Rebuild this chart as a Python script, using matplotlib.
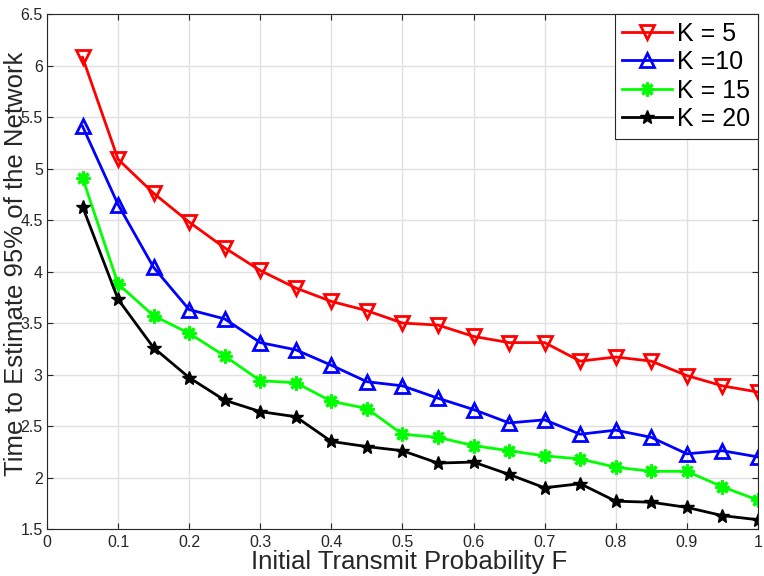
import matplotlib
matplotlib.use("Agg")
import matplotlib.pyplot as plt

F = [0.05, 0.10, 0.15, 0.20, 0.25, 0.30, 0.35, 0.40, 0.45, 0.50,
     0.55, 0.60, 0.65, 0.70, 0.75, 0.80, 0.85, 0.90, 0.95, 1.00]

k5 = [6.08, 5.09, 4.76, 4.48, 4.23, 4.01, 3.84, 3.71, 3.62, 3.50,
      3.48, 3.37, 3.31, 3.31, 3.13, 3.17, 3.13, 2.99, 2.89, 2.83]
k10 = [5.41, 4.65, 4.04, 3.63, 3.54, 3.31, 3.24, 3.09, 2.93, 2.89,
       2.77, 2.66, 2.53, 2.56, 2.42, 2.46, 2.39, 2.23, 2.26, 2.20]
k15 = [4.91, 3.88, 3.57, 3.40, 3.18, 2.94, 2.92, 2.74, 2.67, 2.42,
       2.39, 2.31, 2.26, 2.21, 2.18, 2.10, 2.06, 2.06, 1.91, 1.78]
k20 = [4.63, 3.73, 3.26, 2.97, 2.75, 2.64, 2.59, 2.35, 2.30, 2.26,
       2.14, 2.15, 2.03, 1.90, 1.94, 1.77, 1.76, 1.71, 1.63, 1.59]

labels = ["K = 5", "K =10", "K = 15", "K = 20"]
xticks = [0, 0.1, 0.2, 0.3, 0.4, 0.5, 0.6, 0.7, 0.8, 0.9, 1]
xticklabels = ["0", "0.1", "0.2", "0.3", "0.4", "0.5", "0.6", "0.7", "0.8", "0.9", "1"]
yticks = [1.5, 2, 2.5, 3, 3.5, 4, 4.5, 5, 5.5, 6, 6.5]
yticklabels = ["1.5", "2", "2.5", "3", "3.5", "4", "4.5", "5", "5.5", "6", "6.5"]

plt.rcParams['font.family'] = ['Liberation Sans', 'DejaVu Sans']

fig = plt.figure(figsize=(7.64, 5.76), dpi=100)
ax = fig.add_axes([0.0615, 0.0816, 0.9305, 0.894])

lw = 2.0
ax.plot(F, k5, color='#ff0000', lw=lw, marker='v', ms=10, mfc='none', mew=2, label=labels[0])
ax.plot(F, k10, color='#0000ff', lw=lw, marker='^', ms=10, mfc='none', mew=2, label=labels[1])
ax.plot(F, k15, color='#00ff00', lw=lw, marker=(8, 2, 0), ms=10, mew=2.2, label=labels[2])
ax.plot(F, k20, color='#000000', lw=lw, marker='*', ms=10, mew=1, label=labels[3])

ax.set_xlim(0, 1)
ax.set_ylim(1.5, 6.5)
ax.set_xticks(xticks)
ax.set_xticklabels(xticklabels)
ax.set_yticks(yticks)
ax.set_yticklabels(yticklabels)
ax.tick_params(direction='in', length=4, width=0.8, labelsize=11.5, colors='#262626',
               top=True, right=True)
ax.tick_params(axis='y', pad=3)
ax.tick_params(axis='x', pad=4)
ax.grid(True, color='#e0e0e0', lw=1)
ax.set_axisbelow(True)
for s in ax.spines.values():
    s.set_color('#262626')
    s.set_linewidth(0.8)

ax.set_xlabel("Initial Transmit Probability F", fontsize=18.5, color='#262626')
ax.set_ylabel("Time to Estimate 95% of the Network", fontsize=18.5, color='#262626')
ax.xaxis.set_label_coords(0.509, -0.041)
ax.yaxis.set_label_coords(-0.027, 0.515)

leg = ax.legend(loc='upper right', fontsize=18, fancybox=False, framealpha=1,
                edgecolor='#262626', borderaxespad=0.0, handlelength=2.0,
                handletextpad=0.2, labelspacing=0.18, borderpad=0.3)
leg.get_frame().set_linewidth(0.8)

fig.savefig("out.png", dpi=100)
